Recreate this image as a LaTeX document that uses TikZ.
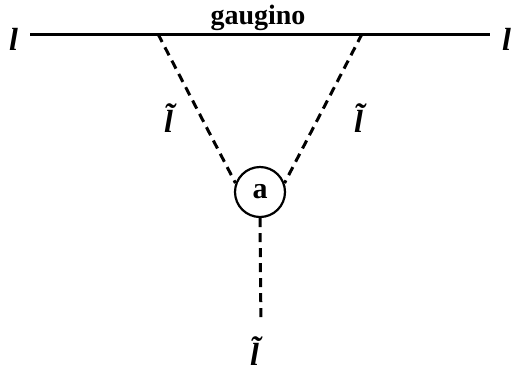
\documentclass[tikz,border=0pt]{standalone}
\usepackage{fontspec}
\setmainfont{Liberation Serif}
\usetikzlibrary{positioning}

\newcommand{\lep}{\textbf{\textit{l}}}
\newcommand{\slep}{\textbf{\textit{\~{l}}}}

\tikzset{
    fermion/.style={line width=1.5pt},
    scalar/.style={line width=1.5pt, dash pattern=on 4.5pt off 3pt},
    label/.style={font=\fontsize{14}{16}\selectfont\bfseries},
    big/.style={font=\fontsize{16}{18}\selectfont\bfseries},
    blob/.style={draw, circle, line width=1.1pt, minimum size=25pt, inner sep=0pt,
                 font=\fontsize{15}{17}\selectfont\bfseries}
}

\begin{document}
\begin{tikzpicture}[x=0.5pt, y=-0.5pt]
    \useasboundingbox (0,0) rectangle (519,376);
    %vertices on the fermion line
    \coordinate (start) at (30,34);
    \coordinate (vL) at (158,34);
    \coordinate (vR) at (362,34);
    \coordinate (end) at (490,34);

    \node (lin) [big, left=2.5pt of start, yshift=-2.5pt] {\lep};
    \node (lout) [big, right=2.5pt of end, yshift=-2.5pt] {\lep};
    \node (gaugino) [label] at (258,18) {gaugino};

    \node (a) [blob] at (260,192) {a};
    \node (sL) [big] at (175,118) {\slep};
    \node (sR) [big] at (365,118) {\slep};
    \node (sB) [big] at (261,351) {\slep};

    \draw[fermion] (start) -- (vL) -- (vR) -- (end);
    \draw[scalar] (vL) -- (a.160);
    \draw[scalar] (vR) -- (a.20);
    %outgoing slepton
    \draw[scalar, shorten >=4pt] (a.south) -- (sB.north);
\end{tikzpicture}
\end{document}
